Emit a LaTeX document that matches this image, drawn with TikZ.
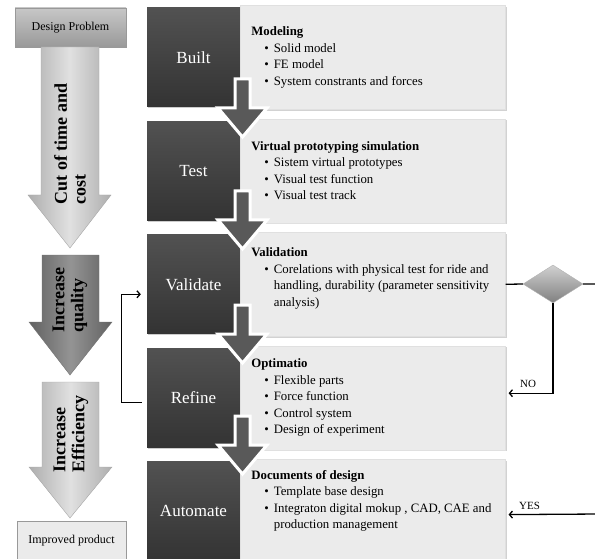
\documentclass[tikz,border=0pt]{standalone}
\usepackage{fontspec}
\setmainfont{Liberation Serif}
\usetikzlibrary{positioning,shapes.geometric,shadows,arrows.meta}

\newcommand{\bul}{\hspace*{13pt}\textbullet\hspace{5pt}}
\newcommand{\cnt}{\hspace*{13pt}\phantom{\textbullet}\hspace{5pt}}

\begin{document}
\begin{tikzpicture}[x=1pt,y=-1pt,
dark/.style={rectangle, minimum width=93pt, minimum height=99pt, top color=black!68, bottom color=black!80, text=white, font=\fontsize{17}{20}\selectfont, drop shadow={shadow xshift=1pt, shadow yshift=-1.5pt, fill=black!40}},
light/.style={rectangle, minimum width=265pt, minimum height=104pt, fill=black!8, draw=black!12, drop shadow={shadow xshift=1.5pt, shadow yshift=-1.5pt, fill=black!35}},
txt/.style={align=left, inner sep=0pt, font=\fontsize{12.8}{16.5}\selectfont},
side/.style={rectangle, draw=black!40, minimum height=39pt, font=\fontsize{12}{14}\selectfont},
lbl/.style={rotate=90, align=left, font=\bfseries\fontsize{18}{19}\selectfont},
dn/.style={fill=black!65, draw=white, line width=3pt},
line/.style={draw=black, line width=1.3pt, -{Straight Barb[length=3pt,width=7pt]}},
node distance=14pt
]
\useasboundingbox (0,0) rectangle (595,559);
\clip (0,0) rectangle (595,559);

% left column
\node[side, minimum width=111pt, top color=black!22, bottom color=black!40, drop shadow={shadow xshift=1pt, shadow yshift=-1pt, fill=black!30}] (prob) at (70.5,27.5) {Design Problem};
\node[side, minimum width=109pt, fill=black!8] (prod) at (71.5,541) {Improved product};

\path[draw=black!35, left color=black!32, right color=black!32, middle color=black!12]
(41,47) -- (99,47) -- (99,195) -- (111,195) -- (70,248) -- (28,195) -- (41,195) -- cycle;
\path[draw=black!55, left color=black!62, right color=black!62, middle color=black!42]
(42,255) -- (99,255) -- (99,322) -- (112,322) -- (70,375) -- (29,322) -- (42,322) -- cycle;
\path[draw=black!35, left color=black!32, right color=black!32, middle color=black!12]
(42,382) -- (99,382) -- (99,467) -- (112,467) -- (70,518) -- (29,467) -- (42,467) -- cycle;

\node[lbl] (cut) at (70,144) {Cut of time and\\cost};
\node[lbl] (qual) at (70,300) {Increase\\quality};
\node[lbl] (eff) at (71,434) {Increase\\Efficiency};

% steps
\node[dark] (built) at (193.5,57.5) {Built};
\node[dark, below=of built] (test) {Test};
\node[dark, below=of test] (validate) {Validate};
\node[dark, below=of validate] (refine) {Refine};
\node[dark, below=of refine] (automate) {Automate};

\node[light, right=0pt of built] (modbox) {};
\node[light, right=0pt of test] (simbox) {};
\node[light, right=0pt of validate] (valbox) {};
\node[light, right=0pt of refine] (optbox) {};
\node[light, right=0pt of automate] (docbox) {};

\node[txt, right=11pt of modbox.west] (modtxt) {\textbf{Modeling}\\
\bul Solid model\\
\bul FE model\\
\bul System constrants and forces};
\node[txt, right=11pt of simbox.west] (simtxt) {\textbf{Virtual prototyping simulation}\\
\bul Sistem virtual prototypes\\
\bul Visual test function\\
\bul Visual test track};
\node[txt, right=11pt of valbox.west, yshift=6pt] (valtxt) {\textbf{Validation}\\
\bul Corelations with physical test for ride and\\
\cnt handling, durability (parameter sensitivity\\
\cnt analysis)};
\node[txt, right=11pt of optbox.west] (opttxt) {\textbf{Optimatio}\\
\bul Flexible parts\\
\bul Force function\\
\bul Control system\\
\bul Design of experiment};
\node[txt, right=11pt of docbox.west, yshift=10pt] (doctxt) {\textbf{Documents of design}\\
\bul Template base design\\
\bul Integraton digital mokup , CAD, CAE and\\
\cnt production management};

\foreach \t in {79,191,305,416}
  \draw[dn] (235,\t) -- (250,\t) -- (250,\t+29) -- (267,\t+29) -- (242.5,\t+58) -- (218,\t+29) -- (235,\t+29) -- cycle;

% decision
\node[diamond, minimum width=60pt, minimum height=38pt, inner sep=0pt, top color=black!18, bottom color=black!50, draw=black!30] (dec) at (553,284) {};
\coordinate (rt) at (600,284);
\coordinate (yes) at (600,514);

\draw[black, line width=1.3pt] (valbox.east) -- (dec.west) (dec.east) -- (rt);
\draw[line] (dec.south) |- ([xshift=3pt,yshift=4.5pt]optbox.east)
  node[pos=0.78, above=2pt, font=\fontsize{11}{13}\selectfont] {NO};
\draw[line] (yes) -- ([xshift=3pt,yshift=-3.5pt]docbox.east)
  node[pos=0.77, above=1pt, font=\fontsize{11}{13}\selectfont] {YES};
\draw[line] ([xshift=-5pt,yshift=-4.5pt]refine.west) -- ++(-20,0) |- ([xshift=-6pt,yshift=-10pt]validate.west);
\end{tikzpicture}
\end{document}
